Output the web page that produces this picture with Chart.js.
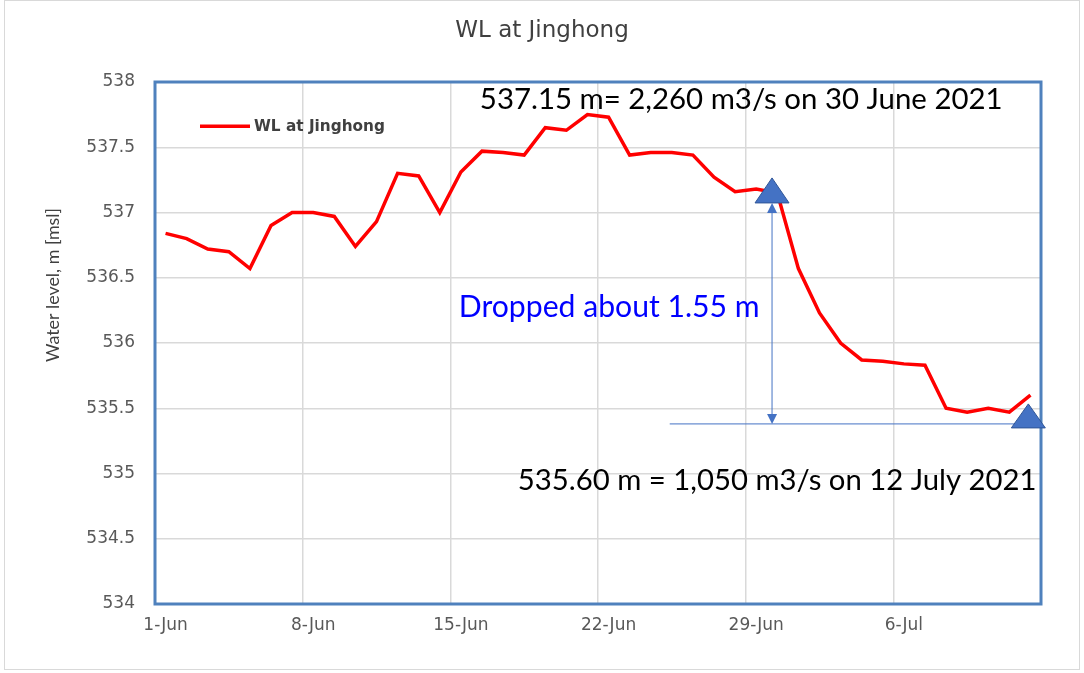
<!DOCTYPE html>
<html>
<head>
<meta charset="utf-8">
<title>WL at Jinghong</title>
<script src="https://cdn.jsdelivr.net/npm/chart.js@4.4.1/dist/chart.umd.min.js"></script>
<style>
  html, body { margin: 0; padding: 0; background: #fff; }
  #wrap { width: 1084px; height: 673px; position: relative; }
</style>
</head>
<body>
<div id="wrap"><canvas id="wlChart"></canvas></div>
<script>
// daily water level at Jinghong, 1 June - 12 July 2021
const days = [
  '1-Jun', '2-Jun', '3-Jun', '4-Jun', '5-Jun', '6-Jun', '7-Jun',
  '8-Jun', '9-Jun', '10-Jun', '11-Jun', '12-Jun', '13-Jun', '14-Jun',
  '15-Jun', '16-Jun', '17-Jun', '18-Jun', '19-Jun', '20-Jun', '21-Jun',
  '22-Jun', '23-Jun', '24-Jun', '25-Jun', '26-Jun', '27-Jun', '28-Jun',
  '29-Jun', '30-Jun', '1-Jul', '2-Jul', '3-Jul', '4-Jul', '5-Jul',
  '6-Jul', '7-Jul', '8-Jul', '9-Jul', '10-Jul', '11-Jul', '12-Jul'
];
const waterLevel = [
  536.84, 536.80, 536.72, 536.70, 536.57, 536.90, 537.00,
  537.00, 536.97, 536.74, 536.93, 537.30, 537.28, 537.00,
  537.31, 537.47, 537.46, 537.44, 537.65, 537.63, 537.75,
  537.73, 537.44, 537.46, 537.46, 537.44, 537.27, 537.16,
  537.18, 537.15, 536.57, 536.23, 536.00, 535.87, 535.86,
  535.84, 535.83, 535.50, 535.47, 535.50, 535.47, 535.60
];
const yMin = 534;
const yMax = 538;
const yStep = 0.5;

// annotation values
const dropFromLevel = 537.15;   // 30 June
const dropToLevel = 535.38;     // reference line under 12 July
const chartTitle = 'WL at Jinghong';
const dropLabel = 'Dropped about 1.55 m';
const highLabel = '537.15 m= 2,260 m3/s on 30 June 2021';
const lowLabel = '535.60 m = 1,050 m3/s on 12 July 2021';

const BLUE = '#4472c4';
const TEXT_FONT = 'Lato, "Open Sans", sans-serif';
const WIDE = '"DejaVu Sans", sans-serif';

function fitSize(ctx, text, weight, family, width) {
  ctx.font = weight + ' 100px ' + family;
  return 100 * width / ctx.measureText(text).width;
}

function triangle(ctx, cx, apexY, baseY, half) {
  ctx.beginPath();
  ctx.moveTo(cx, apexY);
  ctx.lineTo(cx + half, baseY);
  ctx.lineTo(cx - half, baseY);
  ctx.closePath();
  ctx.fillStyle = BLUE;
  ctx.fill();
  ctx.strokeStyle = '#2f5597';
  ctx.lineWidth = 1;
  ctx.stroke();
}

function arrowHead(ctx, x, tipY, dir) {
  ctx.beginPath();
  ctx.moveTo(x, tipY);
  ctx.lineTo(x - 5, tipY + dir * 10);
  ctx.lineTo(x + 5, tipY + dir * 10);
  ctx.closePath();
  ctx.fill();
}

const frame = {
  id: 'frame',
  beforeDraw(chart) {
    const ctx = chart.ctx;
    ctx.save();
    ctx.fillStyle = '#fff';
    ctx.fillRect(0, 0, chart.width, chart.height);
    ctx.strokeStyle = '#d9d9d9';
    ctx.lineWidth = 1;
    ctx.strokeRect(4.5, 0.5, 1075, 669);

    // title centred on the whole picture, not on the plot
    ctx.fillStyle = '#404040';
    ctx.font = '23px ' + WIDE;
    ctx.textAlign = 'center';
    ctx.textBaseline = 'alphabetic';
    ctx.fillText(chartTitle, chart.width / 2, 37);

    // y axis title, Excel puts it a bit above the middle
    ctx.translate(53, 285);
    ctx.rotate(-Math.PI / 2);
    ctx.font = fitSize(ctx, 'Water level, m [msl]', '', TEXT_FONT, 154) + 'px ' + TEXT_FONT;
    ctx.textBaseline = 'middle';
    ctx.fillText('Water level, m [msl]', 0, 0);
    ctx.restore();
  },
  beforeDatasetsDraw(chart) {
    const { ctx, chartArea: a } = chart;
    ctx.save();
    ctx.strokeStyle = '#4f81bd';
    ctx.lineWidth = 3;
    ctx.strokeRect(a.left, a.top, a.right - a.left, a.bottom - a.top);
    ctx.restore();
  }
};

const notes = {
  id: 'notes',
  afterDatasetsDraw(chart) {
    const { ctx, chartArea: a, scales: { x, y } } = chart;
    ctx.save();

    // legend inside the plot
    const ly = y.getPixelForValue(537.66);
    ctx.strokeStyle = '#ff0000';
    ctx.lineWidth = 3.5;
    ctx.beginPath();
    ctx.moveTo(a.left + 45, ly);
    ctx.lineTo(a.left + 95, ly);
    ctx.stroke();
    ctx.fillStyle = '#404040';
    ctx.font = 'bold ' + fitSize(ctx, 'WL at Jinghong', 'bold', WIDE, 131) + 'px ' + WIDE;
    ctx.textBaseline = 'middle';
    ctx.fillText('WL at Jinghong', a.left + 99, ly + 1);

    // level line and drop arrow
    const topX = x.getPixelForValue(28.75);
    const topY = y.getPixelForValue(dropFromLevel);
    const lowY = y.getPixelForValue(dropToLevel);
    ctx.strokeStyle = BLUE;
    ctx.fillStyle = BLUE;
    ctx.lineWidth = 1;
    ctx.beginPath();
    ctx.moveTo(x.getPixelForValue(23.9), lowY);
    ctx.lineTo(a.right, lowY);
    ctx.stroke();
    ctx.beginPath();
    ctx.moveTo(topX, topY + 12);
    ctx.lineTo(topX, lowY - 2);
    ctx.stroke();
    arrowHead(ctx, topX, topY + 10, 1);
    arrowHead(ctx, topX, lowY, -1);

    triangle(ctx, topX, topY - 15, topY + 10, 17);
    triangle(ctx, x.getPixelForValue(40.9), lowY - 20, lowY + 4, 17);

    // text boxes
    ctx.textBaseline = 'alphabetic';
    ctx.fillStyle = '#000';
    ctx.font = fitSize(ctx, highLabel, '', TEXT_FONT, 523) + 'px ' + TEXT_FONT;
    ctx.fillText(highLabel, x.getPixelForValue(14.9), y.getPixelForValue(537.79));
    ctx.font = fitSize(ctx, lowLabel, '', TEXT_FONT, 519) + 'px ' + TEXT_FONT;
    ctx.fillText(lowLabel, x.getPixelForValue(16.7), y.getPixelForValue(534.87));
    ctx.fillStyle = '#0000ff';
    ctx.font = fitSize(ctx, dropLabel, '', TEXT_FONT, 301) + 'px ' + TEXT_FONT;
    ctx.fillText(dropLabel, x.getPixelForValue(13.9), y.getPixelForValue(536.2));
    ctx.restore();
  }
};

new Chart(document.getElementById('wlChart'), {
  type: 'line',
  data: {
    labels: days,
    datasets: [{
      label: 'WL at Jinghong',
      data: waterLevel,
      borderColor: '#ff0000',
      borderWidth: 3.5,
      pointRadius: 0,
      tension: 0,
      fill: false
    }]
  },
  options: {
    responsive: true,
    maintainAspectRatio: false,
    animation: false,
    layout: { padding: { left: 0, right: 43, top: 82, bottom: 0 } },
    plugins: {
      legend: { display: false },
      tooltip: { enabled: false },
      title: { display: false }
    },
    scales: {
      x: {
        offset: true,
        grid: {
          offset: true,
          drawTicks: false,
          lineWidth: 1.5,
          color: c => (c.index % 7 === 0 ? '#d9d9d9' : 'rgba(0,0,0,0)')
        },
        border: { display: false },
        ticks: {
          autoSkip: false,
          maxRotation: 0,
          padding: 11,
          color: '#595959',
          font: { family: WIDE, size: 17 },
          callback: (v, i) => (i % 7 === 0 ? days[i] : '')
        },
        afterFit: s => { s.height = 69; }
      },
      y: {
        min: yMin,
        max: yMax,
        grid: { drawTicks: false, lineWidth: 1.5, color: '#d9d9d9' },
        border: { display: false },
        ticks: {
          stepSize: yStep,
          padding: 20,
          color: '#595959',
          font: { family: WIDE, size: 17 },
          callback: v => String(v)
        },
        afterFit: s => { s.width = 155; }
      }
    }
  },
  plugins: [frame, notes]
});
</script>
</body>
</html>
